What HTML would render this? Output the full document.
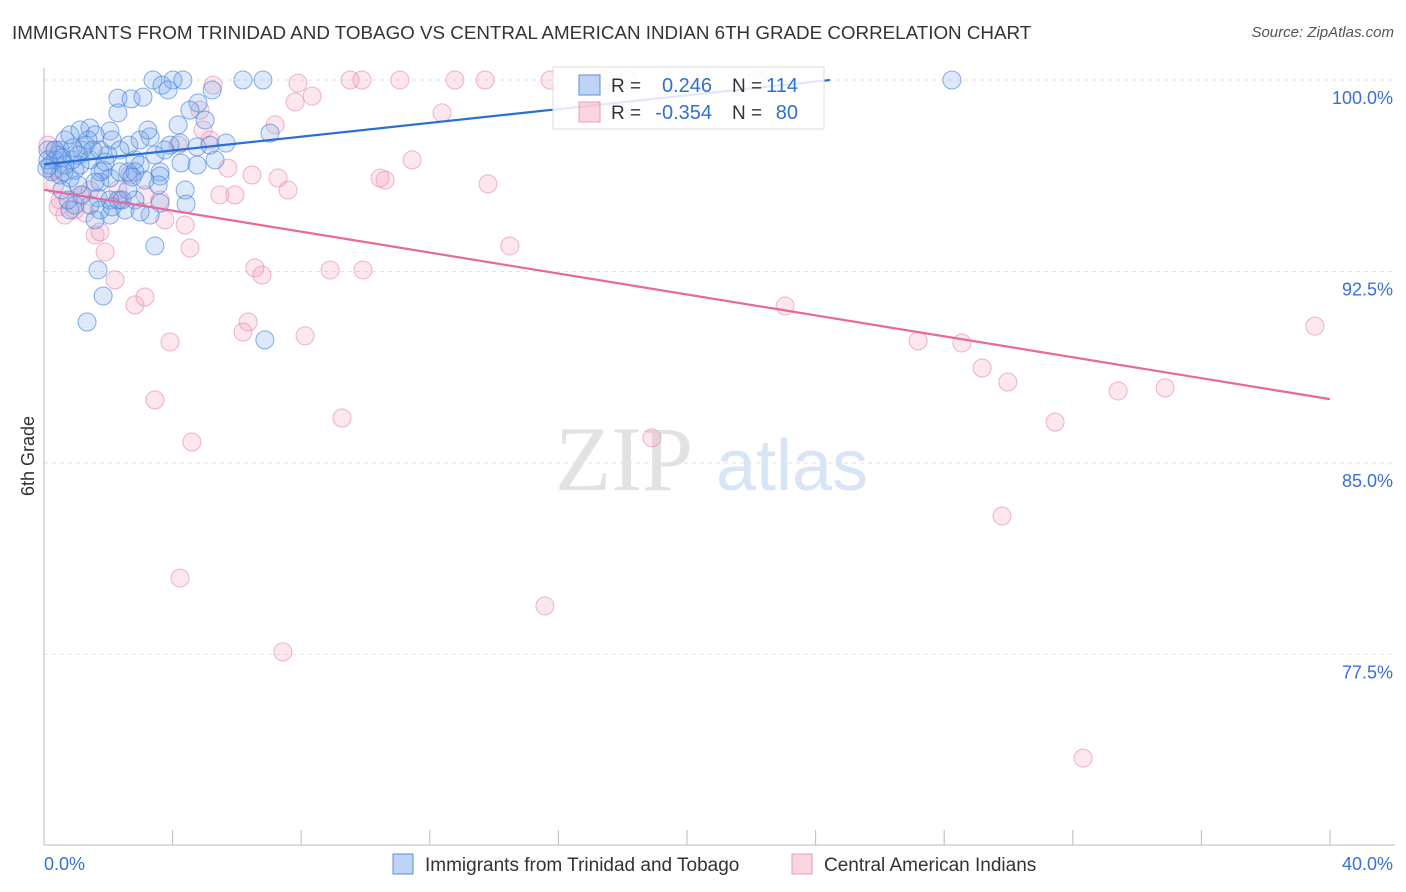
<!DOCTYPE html>
<html><head><meta charset="utf-8"><style>
body{margin:0;background:#fff;font-family:"Liberation Sans",sans-serif;}
#wrap{position:relative;width:1406px;height:892px;overflow:hidden;}
</style></head><body>
<div id="wrap">
<div style="position:absolute;left:12px;top:22px;font-size:18.8px;color:#333;">IMMIGRANTS FROM TRINIDAD AND TOBAGO VS CENTRAL AMERICAN INDIAN 6TH GRADE CORRELATION CHART</div>
<div style="position:absolute;right:12px;top:24px;font-size:15px;color:#555;font-style:italic;">Source: ZipAtlas.com</div>
<svg id="svg" width="1406" height="892" style="position:absolute;left:0;top:0"></svg>
</div>
<script>
const yTicks=[100,92.5,85,77.5];
const yTickLabels=["100.0%","92.5%","85.0%","77.5%"];
const xTickLabels=["0.0%","40.0%"];
const blueX=[3.39,4.01,4.32,6.19,6.81,28.24,3.67,3.86,5.23,2.30,2.71,3.08,4.79,2.30,4.17,7.03,5.66,2.05,4.76,3.30,3.92,3.45,4.26,5.32,4.76,3.61,3.61,3.55,4.39,4.42,2.64,2.83,2.99,2.61,1.99,1.84,2.05,1.74,1.68,2.05,2.52,2.05,1.74,1.43,0.96,0.81,1.59,2.83,3.61,3.30,3.45,1.68,1.84,1.34,6.87,0.50,0.34,0.19,0.25,0.50,0.81,0.96,0.65,0.81,1.12,1.43,1.59,1.28,1.43,1.12,0.87,0.65,0.44,1.74,2.12,2.36,0.56,0.75,1.18,0.12,0.12,0.09,0.34,0.56,1.06,1.18,1.37,1.74,2.36,2.83,3.14,1.90,1.59,2.30,2.12,2.99,2.43,2.74,2.61,2.99,3.23,4.23,3.76,5.16,4.54,5.01,0.62,0.90,1.52,1.06];
const blueY=[100,100,100,100,100,100,99.8,99.61,99.61,99.29,99.26,99.33,99.10,98.71,98.24,97.92,97.53,98.00,97.38,97.77,97.45,97.06,96.75,96.87,96.67,96.40,96.24,95.89,95.69,95.14,97.45,96.87,96.67,96.40,97.06,96.47,96.16,96.00,95.38,95.30,94.91,94.71,94.91,95.10,95.10,94.91,94.52,95.30,95.18,94.71,93.50,92.56,91.54,90.52,89.82,97.26,96.87,96.67,96.40,96.28,96.16,96.47,97.65,97.85,98.04,98.12,97.85,97.45,96.87,96.67,96.87,96.67,97.06,97.26,97.65,97.26,95.69,95.30,95.50,97.26,96.87,96.55,97.26,96.95,95.89,97.26,97.65,96.40,96.40,96.40,96.08,96.79,96.00,95.30,95.03,94.83,95.30,96.20,95.69,97.65,98.04,97.53,97.26,97.45,98.82,98.43,96.40,97.34,97.26,97.06];
const pinkX=[0.12,0.34,0.28,0.34,0.44,0.65,0.50,0.96,1.28,1.43,1.59,1.74,1.90,2.21,2.83,3.14,3.45,3.92,4.60,4.23,7.43,9.27,15.58,18.91,29.80,32.32,31.45,29.98,29.18,28.55,27.19,23.05,33.41,34.87,39.53,14.49,13.81,12.38,11.45,10.61,10.45,9.52,9.89,11.07,12.78,13.72,15.74,17.45,18.16,22.21,7.90,7.81,8.34,5.26,4.85,4.95,5.16,5.72,5.94,6.47,7.28,7.59,7.19,6.56,6.78,8.90,9.92,6.35,6.19,8.12,3.14,2.67,2.30,3.61,3.76,4.39,4.54,2.36,4.17,5.47,1.12];
const pinkY=[97.45,97.26,96.47,95.89,95.03,94.71,95.30,94.91,94.79,95.69,93.93,94.05,93.26,92.17,91.19,91.50,87.47,89.74,85.82,80.49,77.60,86.76,79.40,85.98,82.92,73.44,86.60,88.17,88.72,89.70,89.78,91.15,87.82,87.94,90.36,93.50,95.93,98.71,96.87,96.08,96.16,100,100,100,100,100,100,100,100,100,99.88,99.14,99.37,99.80,98.82,98.04,97.65,96.55,95.50,96.28,96.16,95.69,98.24,92.64,92.36,92.56,92.56,90.52,90.13,89.98,95.50,96.28,95.69,95.30,94.52,94.32,93.42,95.30,97.45,95.50,95.50];
const blueTrend=[0,96.7,24.45,100];
const pinkTrend=[0,95.7,40,87.5];
const legendR=["0.246","-0.354"];
const legendN=["114","80"];

const X0=44,X1=1330,Y100=80,PXPER=25.53;
const sx=v=>X0+v*(X1-X0)/40;
const sy=v=>Y100+(100-v)*PXPER;
const svg=document.getElementById('svg');
const NS='http://www.w3.org/2000/svg';
function mk(tag,attrs,parent){const e=document.createElementNS(NS,tag);for(const k in attrs)e.setAttribute(k,attrs[k]);(parent||svg).appendChild(e);return e;}

yTicks.forEach((t,i)=>{
  const g=mk('line',{x1:X0,x2:1395,y1:sy(t),y2:sy(t),stroke:'#e2e2e2','stroke-dasharray':'4,4'});
  
  
  const tx=mk('text',{x:1393,y:sy(t)+24,'text-anchor':'end','font-size':18,fill:'#3b6fd4','font-family':'Liberation Sans, sans-serif'});
  tx.textContent=yTickLabels[i];
  
  
});
const ax=mk('line',{x1:X0,x2:X0,y1:68,y2:845,stroke:'#bbb'});


const bx=mk('line',{x1:X0,x2:1395,y1:845,y2:845,stroke:'#bbb'});


for(let i=1;i<=10;i++){const t=mk('line',{x1:sx(i*4),x2:sx(i*4),y1:830,y2:845,stroke:'#bbb'});
  
  }
[[0,'start',44],[1,'end',1393]].forEach(([i,a,x])=>{const t=mk('text',{x:x,y:870,'text-anchor':a,'font-size':18,fill:'#3b6fd4','font-family':'Liberation Sans, sans-serif'});t.textContent=xTickLabels[i];
  
  });
const yt=mk('text',{x:34,y:456,transform:'rotate(-90 34 456)','text-anchor':'middle','font-size':18,fill:'#333','font-family':'Liberation Sans, sans-serif'});
yt.textContent='6th Grade';


const wm=mk('text',{x:555,y:490,'font-size':92,fill:'#e2e2e2','font-family':'Liberation Serif, serif'});
wm.textContent='ZIP';


const wm2=mk('text',{x:716,y:490,'font-size':72,fill:'#d8e5f6','font-family':'Liberation Sans, sans-serif'});
wm2.textContent='atlas';


function pts(xs,ys,fill,stroke,name){xs.forEach((x,i)=>{const c=mk('circle',{cx:sx(x),cy:sy(ys[i]),r:9,fill:fill,stroke:stroke,'stroke-width':1});
  
  });}
pts(pinkX,pinkY,'rgba(244,160,188,0.25)','rgba(232,140,172,0.65)','pink-point');
pts(blueX,blueY,'rgba(120,168,235,0.25)','rgba(70,130,220,0.65)','blue-point');
const bl=mk('line',{x1:sx(blueTrend[0]),y1:sy(blueTrend[1]),x2:sx(blueTrend[2]),y2:sy(blueTrend[3]),stroke:'#2a6fd6','stroke-width':2.2});


const pl=mk('line',{x1:sx(pinkTrend[0]),y1:sy(pinkTrend[1]),x2:sx(pinkTrend[2]),y2:sy(pinkTrend[3]),stroke:'#e8689a','stroke-width':2.2});


const lb=mk('rect',{x:553,y:67,width:271,height:62,fill:'rgba(255,255,255,0.85)',stroke:'#ddd'});


[['rgba(110,160,232,0.45)','#5b8fd9'],['rgba(244,160,188,0.45)','#e89ab4']].forEach((c,i)=>{
  const y=75+i*27;
  const r=mk('rect',{x:579,y:y,width:21,height:20,fill:c[0],stroke:c[1]});
  
  
  const t1=mk('text',{x:611,y:y+17,'font-size':19,fill:'#333','font-family':'Liberation Sans, sans-serif'});t1.textContent='R =';
  
  
  const t2=mk('text',{x:712,y:y+17,'text-anchor':'end','font-size':20,fill:'#2f6fd3','font-family':'Liberation Sans, sans-serif'});t2.textContent=legendR[i];
  
  
  const t3=mk('text',{x:732,y:y+17,'font-size':19,fill:'#333','font-family':'Liberation Sans, sans-serif'});t3.textContent='N =';
  
  
  const t4=mk('text',{x:798,y:y+17,'text-anchor':'end','font-size':20,fill:'#2f6fd3','font-family':'Liberation Sans, sans-serif'});t4.textContent=legendN[i];
  
  
});
[['Immigrants from Trinidad and Tobago',393,'rgba(110,160,232,0.45)','#5b8fd9'],['Central American Indians',792,'rgba(244,160,188,0.45)','#e89ab4']].forEach((d,i)=>{
  const r=mk('rect',{x:d[1],y:854,width:20,height:20,fill:d[2],stroke:d[3]});
  
  
  const t=mk('text',{x:d[1]+32,y:871,'font-size':19,fill:'#333','font-family':'Liberation Sans, sans-serif'});t.textContent=d[0];
  
  
});
</script>
</body></html>
